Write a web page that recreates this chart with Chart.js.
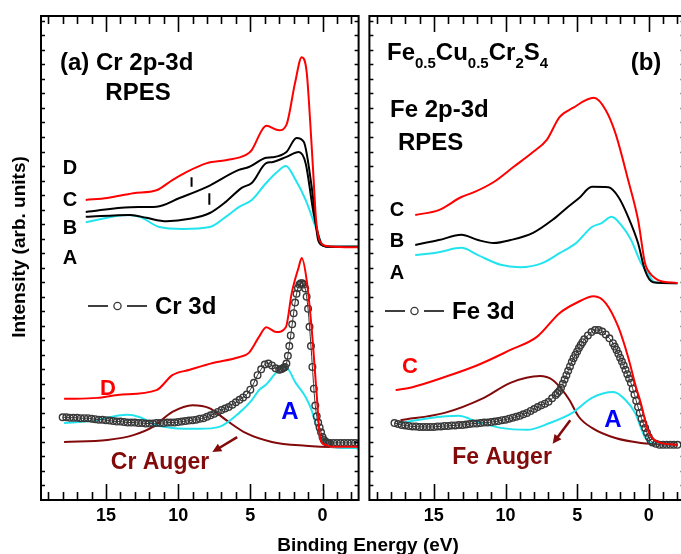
<!DOCTYPE html>
<html>
<head>
<meta charset="utf-8">
<script src="https://cdn.jsdelivr.net/npm/chart.js@4.4.1/dist/chart.umd.min.js"></script>
<style>
body{margin:0;width:681px;height:554px;overflow:hidden;background:#fff;position:relative;font-family:"Liberation Sans",Arial,sans-serif}
canvas{position:absolute;top:0}
#xt{position:absolute;left:0;width:736px;top:534px;text-align:center;font-weight:bold;font-size:19px}
</style>
</head>
<body>
<canvas id="ca" width="364" height="554" style="left:0"></canvas>
<canvas id="cb" width="326" height="554" style="left:364px"></canvas>
<div id="xt">Binding Energy (eV)</div>
<script>
// ---- panel (a): Cr 2p-3d RPES ----
const crTopD_E = [16.4,14.9,13.1,11.5,10.4,9.4,8.0,6.7,5.3,4.9,4.2,3.9,3.0,2.5,1.9,1.44,1.1,0.85,0.65,0.45,0.25,0,-0.5,-2.5];
const crTopD_I = [62.0,62.4,63.4,64.0,66.1,67.8,69.6,70.2,71.3,72.3,76.4,77.3,76.4,77.5,86.2,91.5,88.5,78,68,58,54,52.8,52.4,52.2];
const crTopC_E = [16.4,13.3,11.5,9.9,8.0,5.8,5.1,3.9,3.5,2.5,1.8,1.3,0.75,0.3,0,-0.5,-2.5];
const crTopC_I = [59.5,60.5,60.6,62.4,64.7,68.2,68.8,70.7,70.8,71.9,74.8,74.0,64.7,53.7,52.6,52.3,52.3];
const crTopB_E = [16.4,13.3,12.2,10.8,9.2,7.8,6.7,5.6,4.9,3.9,3.5,2.5,1.65,1.17,0.62,0.14,-0.2,-2.5];
const crTopB_I = [58.5,58.9,58.3,57.6,58.1,59.3,61.6,64.5,65.5,69.6,69.8,70.9,71.9,69.6,59.3,53.3,52.4,52.3];
const crTopA_E = [16.4,13.5,12.65,11.3,9.7,7.8,6.7,5.8,4.9,3.9,3.2,2.54,1.86,1.17,0.48,0.07,-0.3,-2.5];
const crTopA_I = [57.4,58.9,58.5,56.4,56.0,56.4,58.5,60.5,62.0,65.5,67.6,69.0,66.1,62.0,56.4,53.1,52.4,52.3];
const crMark_E = [9.07, 7.84];
const crMark_Lo = [64.7, 61.0];
const crMark_Hi = [66.7, 63.4];

const crLowD_E = [17.9,15.6,14.2,11.5,10.4,9.2,7.6,5.8,5.1,4.4,3.9,3.2,2.54,2.13,1.65,1.44,1.1,0.76,0.41,0.14,-0.21,-0.6,-2.5];
const crLowD_I = [20.9,21.1,21.7,22.7,25.8,26.9,28.3,29.5,30.4,33.7,35.7,34.7,35.7,42.8,48.1,50.0,45.5,35.7,22.1,12.4,11.4,11.0,11.0];
const crAuger_E = [17.9,14.9,13.1,11.75,10.4,9.0,7.84,6.67,5.29,3.51,1.17,-2.5];
const crAuger_I = [12.0,12.4,13.4,15.1,18.2,19.6,19.0,16.5,13.8,12.0,11.2,10.7];
const crLowA_E = [17.9,16.1,13.5,12.65,11.5,10.4,8.5,7.15,5.77,4.88,4.4,3.92,3.02,2.54,1.86,1.17,0.76,0.27,-0.21,-0.6,-2.5];
const crLowA_I = [15.9,16.3,17.6,17.1,15.5,14.9,14.7,15.1,18.0,20.7,22.7,23.8,26.9,27.5,24.2,21.3,18.6,13.8,11.8,11.0,10.7];
const cr3d_E = [18.0,17.75,17.5,17.25,17.0,16.75,16.5,16.25,16.0,15.75,15.5,15.25,15.0,14.75,14.5,14.25,14.0,13.75,13.5,13.25,13.0,12.75,12.5,12.25,12.0,11.75,11.5,11.25,11.0,10.75,10.5,10.25,10.0,9.75,9.5,9.25,9.0,8.75,8.5,8.25,8.0,7.75,7.5,7.25,7.0,6.75,6.5,6.25,6.0,5.75,5.5,5.25,5.0,4.75,4.5,4.25,4.0,3.75,3.5,3.25,3.0,2.9,2.8,2.7,2.6,2.5,2.4,2.3,2.2,2.1,2.0,1.9,1.8,1.7,1.6,1.5,1.4,1.3,1.2,1.1,1.0,0.9,0.8,0.7,0.6,0.5,0.4,0.3,0.2,0.1,0.0,-0.1,-0.2,-0.3,-0.4,-0.5,-0.75,-1.0,-1.25,-1.5,-1.75,-2.0,-2.25,-2.5];
const cr3d_I = [17.1,17.1,17.0,17.0,17.0,16.9,16.9,16.9,16.8,16.7,16.6,16.6,16.5,16.4,16.3,16.2,16.2,16.1,16.0,16.0,16.0,15.9,15.9,15.8,15.8,15.8,15.9,15.9,15.9,16.0,16.0,16.0,16.1,16.2,16.3,16.4,16.5,16.6,16.8,16.9,17.2,17.5,17.8,18.2,18.6,18.9,19.2,19.7,20.2,20.7,21.2,21.8,22.8,24.2,25.8,27.0,28.0,28.2,27.8,27.2,26.9,27.0,27.1,27.3,27.5,28.2,29.8,31.8,34.0,36.3,38.6,40.8,42.6,43.8,44.5,44.8,44.8,44.5,43.7,42.0,39.5,35.8,31.8,27.5,23.0,19.5,17.3,16.0,15.0,14.0,13.0,12.4,12.1,11.9,11.8,11.8,11.8,11.8,11.8,11.8,11.8,11.8,11.8,11.7];
const crArrow_E = [5.91, 7.63];
const crArrow_I = [13.0, 9.9];

// ---- panel (b): Fe 2p-3d RPES ----
const feTopC_E = [16.3,14.66,13.08,12.19,10.82,9.45,8.08,7.12,6.23,5.3,3.84,3.01,2.33,1.44,0.75,0.27,0.07,-0.62,-2.0];
const feTopC_I = [58.9,59.9,62.6,63.6,65.7,68.8,71.9,74.4,79.1,81.0,83.1,80.6,75.8,66.1,57.9,49.0,47.5,45.5,44.8];
const feTopB_E = [16.3,14.66,13.08,11.92,10.82,9.66,8.08,6.71,5.75,4.86,3.97,2.81,2.12,1.44,0.75,0.27,-0.3,-2.0];
const feTopB_I = [52.7,53.7,54.8,53.7,53.1,53.7,55.2,57.9,60.3,62.4,64.7,64.6,62.6,58.5,53.1,47.5,45.0,44.8];
const feTopA_E = [16.3,14.66,13.08,11.92,10.34,8.97,7.40,6.23,5.07,3.97,3.29,2.60,1.92,1.23,0.55,0.07,-0.4,-2.0];
const feTopA_I = [50.6,51.2,52.1,50.6,48.6,48.1,49.0,51.0,53.1,56.4,57.2,58.5,56.8,53.7,49.0,46.9,45.0,44.8];

const feLowC_E = [17.67,16.51,14.25,11.92,9.66,7.81,6.23,5.07,3.84,3.01,2.12,1.44,0.89,0.55,0.07,-0.62,-2.0];
const feLowC_I = [22.7,23.3,25.4,27.9,31.0,33.7,38.6,40.7,42.1,40.7,35.7,29.5,23.3,20.0,14.5,12.0,11.4];
const feAuger_E = [17.33,14.25,11.51,9.66,7.60,6.71,6.03,5.55,4.86,3.97,2.33,0.55,-2.0];
const feAuger_I = [16.5,18.0,21.1,24.2,25.6,24.8,22.7,20.7,17.1,14.9,12.8,11.8,11.4];
const feLowA_E = [17.33,15.34,13.29,11.92,10.34,8.49,6.92,5.34,3.97,2.47,1.64,0.96,0.27,-0.14,-2.0];
const feLowA_I = [15.9,16.9,17.4,16.1,14.9,14.5,15.9,18.0,21.1,22.3,20.7,18.0,13.0,11.8,11.4];
const fe3d_E = [17.75,17.5,17.25,17.0,16.75,16.5,16.25,16.0,15.75,15.5,15.25,15.0,14.75,14.5,14.25,14.0,13.75,13.5,13.25,13.0,12.75,12.5,12.25,12.0,11.75,11.5,11.25,11.0,10.75,10.5,10.25,10.0,9.75,9.5,9.25,9.0,8.75,8.5,8.25,8.0,7.75,7.5,7.25,7.0,6.75,6.5,6.375,6.25,6.125,6.0,5.875,5.75,5.625,5.5,5.375,5.25,5.125,5.0,4.875,4.75,4.625,4.5,4.25,4.0,3.75,3.5,3.25,3.0,2.75,2.5,2.375,2.25,2.125,2.0,1.875,1.75,1.625,1.5,1.375,1.25,1.125,1.0,0.875,0.75,0.625,0.5,0.375,0.25,0.125,0.0,-0.125,-0.25,-0.5,-0.75,-1.0,-1.25,-1.5,-1.75,-2.0];
const fe3d_I = [15.9,15.7,15.5,15.4,15.3,15.2,15.2,15.1,15.1,15.1,15.1,15.1,15.2,15.2,15.3,15.3,15.4,15.4,15.5,15.5,15.6,15.7,15.8,15.8,15.9,16.0,16.0,16.1,16.2,16.3,16.5,16.6,16.8,17.0,17.2,17.4,17.7,18.0,18.4,18.8,19.2,19.6,19.9,20.3,21.0,21.7,22.1,22.5,23.2,24.0,24.9,25.8,26.7,27.6,28.5,29.3,30.0,30.7,31.4,32.0,32.6,33.2,34.0,34.7,35.1,35.1,34.8,34.2,33.4,32.4,31.7,31.0,30.2,29.4,28.6,27.8,26.9,26.0,25.1,24.2,23.0,21.8,20.5,19.2,18.0,16.8,15.8,14.9,13.9,13.0,12.3,11.9,11.6,11.4,11.4,11.4,11.4,11.4,11.4];
const feArrow_E = [5.48, 6.71];
const feArrow_I = [16.5, 11.6];

const xMajor = [15, 10, 5, 0];

const RED = '#ff0000', CYAN = '#22e4ee', AUGER = '#820a0a', GRAY = '#383838';
const FONT = '"Liberation Sans", Arial, sans-serif';

const pts = (E, I) => E.map((e, i) => ({x: e, y: I[i]})).sort((a, b) => a.x - b.x);

function line(E, I, color) {
  return {data: pts(E, I), borderColor: color, borderWidth: 2, pointRadius: 0,
          cubicInterpolationMode: 'monotone', fill: false};
}
function circles(E, I) {
  return {data: pts(E, I), borderColor: GRAY, borderWidth: 1, pointRadius: 3.3,
          pointBorderWidth: 1.4, pointBorderColor: GRAY, pointBackgroundColor: 'rgba(255,255,255,0)',
          cubicInterpolationMode: 'monotone', fill: false};
}
function marks(E, lo, hi) {
  return E.map((e, i) => ({data: [{x: e, y: lo[i]}, {x: e, y: hi[i]}], borderColor: '#000',
          borderWidth: 2, pointRadius: 0, tension: 0}));
}

// frame, inward ticks, tick labels and text annotations
const panel = {
  id: 'panel',
  afterDraw(chart, args, o) {
    const ctx = chart.ctx, a = chart.chartArea, xs = chart.scales.x, ys = chart.scales.y;
    ctx.save();
    // arrow
    const x1 = xs.getPixelForValue(o.arrow[0][0]), y1 = ys.getPixelForValue(o.arrow[1][0]);
    const x2 = xs.getPixelForValue(o.arrow[0][1]), y2 = ys.getPixelForValue(o.arrow[1][1]);
    const ang = Math.atan2(y2 - y1, x2 - x1);
    ctx.strokeStyle = AUGER; ctx.fillStyle = AUGER; ctx.lineWidth = 2.5;
    ctx.beginPath(); ctx.moveTo(x1, y1); ctx.lineTo(x2 - 6 * Math.cos(ang), y2 - 6 * Math.sin(ang)); ctx.stroke();
    ctx.beginPath(); ctx.moveTo(x2, y2);
    ctx.lineTo(x2 - 10 * Math.cos(ang - 0.45), y2 - 10 * Math.sin(ang - 0.45));
    ctx.lineTo(x2 - 10 * Math.cos(ang + 0.45), y2 - 10 * Math.sin(ang + 0.45));
    ctx.closePath(); ctx.fill();

    // frame
    ctx.strokeStyle = '#000'; ctx.lineWidth = 2;
    ctx.strokeRect(a.left, a.top, a.right - a.left, a.bottom - a.top);
    // x ticks (inward, top and bottom)
    ctx.lineWidth = 1.6;
    ctx.beginPath();
    for (let v = -2; v <= 19; v++) {
      const x = Math.round(xs.getPixelForValue(v)) + 0.5;
      const len = v % 5 === 0 ? 16 : 8;
      ctx.moveTo(x, a.bottom); ctx.lineTo(x, a.bottom - len);
      ctx.moveTo(x, a.top); ctx.lineTo(x, a.top + len);
    }
    // y ticks (small, inward)
    for (let v = 3; v < 100; v += 3) {
      const y = Math.round(ys.getPixelForValue(v)) + 0.5;
      ctx.moveTo(a.left, y); ctx.lineTo(a.left + 4, y);
      ctx.moveTo(a.right, y); ctx.lineTo(a.right - 4, y);
    }
    ctx.stroke();
    // tick labels
    ctx.fillStyle = '#000'; ctx.font = 'bold 18px ' + FONT;
    ctx.textAlign = 'center'; ctx.textBaseline = 'middle';
    xMajor.forEach(v => ctx.fillText(String(v), xs.getPixelForValue(v), a.bottom + 16));

    // legend sample (line - circle - line)
    const lg = o.legend, ox = o.offset;
    ctx.strokeStyle = '#000'; ctx.lineWidth = 1.6;
    ctx.beginPath();
    ctx.moveTo(lg.x - ox, lg.y); ctx.lineTo(lg.x - ox + 20, lg.y);
    ctx.moveTo(lg.x - ox + 39, lg.y); ctx.lineTo(lg.x - ox + 59, lg.y);
    ctx.stroke();
    ctx.strokeStyle = GRAY; ctx.lineWidth = 1.3;
    ctx.beginPath(); ctx.arc(lg.x - ox + 29.5, lg.y, 3.6, 0, Math.PI * 2); ctx.stroke();

    // texts
    o.texts.forEach(t => {
      ctx.fillStyle = t.c || '#000';
      ctx.font = 'bold ' + t.s + 'px ' + FONT;
      ctx.textAlign = t.al || 'left'; ctx.textBaseline = 'middle';
      ctx.fillText(t.t, t.x - ox, t.y);
    });
    // formula with subscripts
    if (o.formula) {
      let x = o.formula.x - ox;
      ctx.textAlign = 'left'; ctx.textBaseline = 'alphabetic'; ctx.fillStyle = '#000';
      o.formula.parts.forEach(p => {
        ctx.font = 'bold ' + (p[1] ? 15 : 24) + 'px ' + FONT;
        ctx.fillText(p[0], x, p[1] ? o.formula.y + 8 : o.formula.y);
        x += ctx.measureText(p[0]).width;
      });
    }
    // y title
    if (o.ytitle) {
      ctx.translate(20, 247); ctx.rotate(-Math.PI / 2);
      ctx.font = 'bold 19px ' + FONT; ctx.textAlign = 'center'; ctx.textBaseline = 'middle';
      ctx.fillStyle = '#000';
      ctx.fillText(o.ytitle, 0, 0);
    }
    ctx.restore();
  }
};

function makeChart(id, datasets, pad, pOpts) {
  return new Chart(document.getElementById(id), {
    type: 'line',
    data: {datasets: datasets},
    options: {
      responsive: false, animation: false,
      layout: {padding: pad},
      scales: {
        x: {type: 'linear', min: -2.5, max: 19.5, reverse: true, display: false},
        y: {type: 'linear', min: 0, max: 100, display: false}
      },
      plugins: {legend: {display: false}, tooltip: {enabled: false}, panel: pOpts}
    },
    plugins: [panel]
  });
}

makeChart('ca', [
  line(crTopD_E, crTopD_I, RED),
  line(crTopC_E, crTopC_I, '#000'),
  line(crTopB_E, crTopB_I, '#000'),
  line(crTopA_E, crTopA_I, CYAN),
  ...marks(crMark_E, crMark_Lo, crMark_Hi),
  line(crLowD_E, crLowD_I, RED),
  circles(cr3d_E, cr3d_I),
  line(crLowA_E, crLowA_I, CYAN),
  line(crAuger_E, crAuger_I, AUGER)
], {left: 41, top: 16, right: 3, bottom: 54}, {
  offset: 0,
  arrow: [crArrow_E, crArrow_I],
  legend: {x: 88, y: 306},
  ytitle: 'Intensity (arb. units)',
  texts: [
    {t: '(a) Cr 2p-3d', x: 60, y: 63, s: 24},
    {t: 'RPES', x: 138, y: 93, s: 24, al: 'center'},
    {t: 'D', x: 70, y: 168, s: 20, al: 'center'},
    {t: 'C', x: 70, y: 200, s: 20, al: 'center'},
    {t: 'B', x: 70, y: 228, s: 20, al: 'center'},
    {t: 'A', x: 70, y: 258, s: 20, al: 'center'},
    {t: 'Cr 3d', x: 155, y: 307, s: 24},
    {t: 'D', x: 108, y: 389, s: 22, al: 'center', c: RED},
    {t: 'A', x: 290, y: 412, s: 24, al: 'center', c: '#0000ff'},
    {t: 'Cr Auger', x: 160, y: 463, s: 23, al: 'center', c: AUGER}
  ]
});

makeChart('cb', [
  line(feTopC_E, feTopC_I, RED),
  line(feTopB_E, feTopB_I, '#000'),
  line(feTopA_E, feTopA_I, CYAN),
  line(feLowC_E, feLowC_I, RED),
  circles(fe3d_E, fe3d_I),
  line(feLowA_E, feLowA_I, CYAN),
  line(feAuger_E, feAuger_I, AUGER)
], {left: 2, top: 16, right: 2, bottom: 54}, {
  offset: 364,
  arrow: [feArrow_E, feArrow_I],
  legend: {x: 385, y: 311},
  formula: {x: 387, y: 60, parts: [['Fe', 0], ['0.5', 1], ['Cu', 0], ['0.5', 1], ['Cr', 0], ['2', 1], ['S', 0], ['4', 1]]},
  texts: [
    {t: '(b)', x: 646, y: 63, s: 24, al: 'center'},
    {t: 'Fe 2p-3d', x: 390, y: 110, s: 24},
    {t: 'RPES', x: 398, y: 143, s: 24},
    {t: 'C', x: 397, y: 210, s: 20, al: 'center'},
    {t: 'B', x: 397, y: 241, s: 20, al: 'center'},
    {t: 'A', x: 397, y: 273, s: 20, al: 'center'},
    {t: 'Fe 3d', x: 452, y: 312, s: 24},
    {t: 'C', x: 410, y: 367, s: 22, al: 'center', c: RED},
    {t: 'A', x: 613, y: 420, s: 24, al: 'center', c: '#0000ff'},
    {t: 'Fe Auger', x: 502, y: 458, s: 23, al: 'center', c: AUGER}
  ]
});
</script>
</body>
</html>
